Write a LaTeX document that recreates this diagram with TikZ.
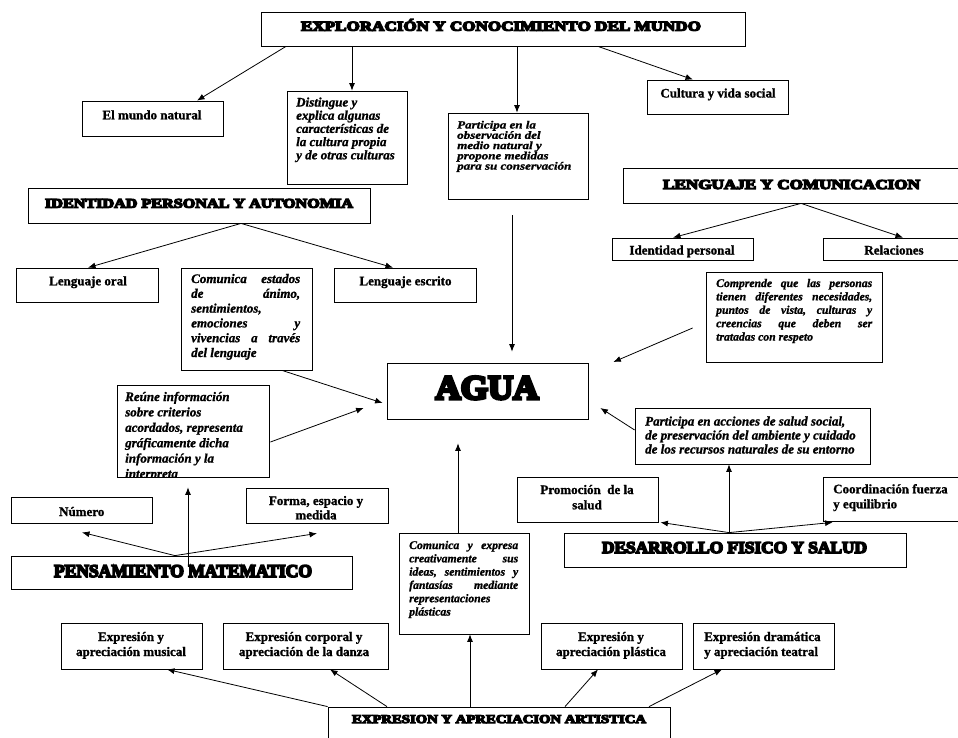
\documentclass[tikz,border=0pt]{standalone}
\usepackage{fontspec}
\usepackage{graphicx}
\setmainfont{Liberation Serif}[BoldFeatures={FakeBold=1.2}, BoldItalicFeatures={FakeBold=1.2}]
\newfontfamily\ttlfont[FakeBold=9]{Liberation Serif}
\usetikzlibrary{arrows.meta}
\newcommand\ttlw[3]{\resizebox{#1}{\height}{\fontsize{#2}{#2}\selectfont\ttlfont\bfseries #3}}
\newcommand\pbx[4]{\parbox[t]{#1}{\fontsize{#2}{#3}\selectfont #4}}
\begin{document}
\begin{tikzpicture}[x=1pt,y=-1pt,
  bx/.style={draw, line width=0.8pt, inner sep=0pt},
  tt/.style={inner sep=0pt, anchor=base},
  tu/.style={inner sep=0pt, font=\bfseries\fontsize{13}{15}\selectfont},
  ti/.style={inner sep=0pt, anchor=base west, font=\bfseries\itshape\fontsize{13}{13.2}\selectfont},
  arr/.style={line width=0.8pt, -{Latex[length=7.5pt,width=6pt]}}]
\useasboundingbox (0,0) rectangle (958,738);
\fill[white] (0,0) rectangle (958,738);
\clip (0,0) rectangle (958,738);

% ---------- boxes ----------
\node[bx, minimum width=484pt, minimum height=34pt] (expl) at (503,29) {};
\node[bx, minimum width=141pt, minimum height=35pt] (mundo) at (152.5,118.5) {};
\node[bx, minimum width=120pt, minimum height=93pt] (disting) at (347,137.5) {};
\node[bx, minimum width=140pt, minimum height=86pt] (partobs) at (518,156) {};
\node[bx, minimum width=141pt, minimum height=34pt] (cultura) at (717.5,97) {};
\node[bx, minimum width=337pt, minimum height=35pt] (lyc) at (791.5,185.5) {};
\node[bx, minimum width=141pt, minimum height=22pt] (idpers) at (682.5,249) {};
\node[bx, minimum width=141pt, minimum height=22pt] (relac) at (893.5,249) {};
\node[bx, minimum width=176pt, minimum height=90pt] (comprende) at (794,317) {};
\node[bx, minimum width=342pt, minimum height=35pt] (ident) at (199,205.5) {};
\node[bx, minimum width=142pt, minimum height=34pt] (oral) at (87,285) {};
\node[bx, minimum width=131pt, minimum height=102pt] (comest) at (246.5,319) {};
\node[bx, minimum width=142pt, minimum height=34pt] (escrito) at (405,285) {};
\node[bx, minimum width=201pt, minimum height=56pt] (agua) at (487.5,391) {};
\node[bx, minimum width=152pt, minimum height=92pt] (reune) at (193,431) {};
\node[bx, minimum width=141pt, minimum height=26pt] (numero) at (81.5,510) {};
\node[bx, minimum width=142pt, minimum height=35pt] (forma) at (317,505.5) {};
\node[bx, minimum width=341pt, minimum height=33pt] (pens) at (181.5,572.5) {};
\node[bx, minimum width=130pt, minimum height=101pt] (comexp) at (464,583.5) {};
\node[bx, minimum width=235pt, minimum height=56pt] (partacc) at (752.5,436) {};
\node[bx, minimum width=141pt, minimum height=45pt] (promo) at (587.5,499.5) {};
\node[bx, minimum width=141pt, minimum height=44pt] (coord) at (893.5,499) {};
\node[bx, minimum width=342pt, minimum height=34pt] (desar) at (735,550) {};
\node[bx, minimum width=141pt, minimum height=46pt] (emus) at (131.5,646) {};
\node[bx, minimum width=165pt, minimum height=46pt] (ecorp) at (305.5,646) {};
\node[bx, minimum width=141pt, minimum height=46pt] (eplas) at (611.5,646) {};
\node[bx, minimum width=141pt, minimum height=46pt] (edram) at (763.5,646) {};
\node[bx, minimum width=342pt, minimum height=38pt] (eart) at (499,726) {};

% ---------- titles ----------
\node[tt] (expl-t) at (501,30.7) {\ttlw{400pt}{13.6}{EXPLORACIÓN Y CONOCIMIENTO DEL MUNDO}};
\node[tt] (ident-t) at (199,207.7) {\ttlw{308pt}{13.2}{IDENTIDAD PERSONAL Y AUTONOMIA}};
\node[tt] (lyc-t) at (791.5,189) {\ttlw{257pt}{13.6}{LENGUAJE Y COMUNICACION}};
\node[tt] (pens-t) at (183,577) {\ttlw{258pt}{18}{PENSAMIENTO MATEMATICO}};
\node[tt] (desar-t) at (734.5,553) {\ttlw{265pt}{16.6}{DESARROLLO FISICO Y SALUD}};
\node[tt] (eart-t) at (499,723) {\ttlw{294pt}{12}{EXPRESION Y APRECIACION ARTISTICA}};
\node[tt] (agua-t) at (487,399) {\ttlw{103pt}{34}{AGUA}};

% ---------- upright texts ----------
\node[tu, anchor=base] (mundo-t) at (152,119.3) {El mundo natural};
\node[tu, anchor=base] (cultura-t) at (718,97.5) {Cultura y vida social};
\node[tu, anchor=base] (idpers-t) at (682,254.5) {Identidad personal};
\node[tu, anchor=base] (relac-t) at (894,254.5) {Relaciones};
\node[tu, anchor=base] (oral-t) at (88,285.3) {Lenguaje oral};
\node[tu, anchor=base] (escrito-t) at (405.5,285.3) {Lenguaje escrito};
\node[tu, anchor=base] (numero-t) at (81.7,516) {Número};
\node[tu, anchor=base] (forma-t) at (316,505) {\pbx{140pt}{13}{14.3}{\centering Forma, espacio y\\ medida}};
\node[tu, anchor=base] (promo-t) at (587,494) {\pbx{140pt}{13}{15.3}{\centering Promoción~ de la\\ salud}};
\node[tu, anchor=base west] (coord-t) at (833,493.3) {\pbx{130pt}{13}{15}{\raggedright Coordinación fuerza\\ y equilibrio}};
\node[tu, anchor=base] (emus-t) at (131,641) {\pbx{140pt}{13}{15}{\centering Expresión y\\ apreciación musical}};
\node[tu, anchor=base] (ecorp-t) at (304,641) {\pbx{160pt}{13}{15}{\centering Expresión corporal y\\ apreciación de la danza}};
\node[tu, anchor=base] (eplas-t) at (611,641) {\pbx{140pt}{13}{15}{\centering Expresión y\\ apreciación plástica}};
\node[tu, anchor=base west] (edram-t) at (704,641) {\pbx{130pt}{13}{15}{\raggedright Expresión dramática\\ y apreciación teatral}};

% ---------- italic texts ----------
\node[ti] (disting-t) at (296,106.5) {\pbx{108pt}{13}{13.2}{\raggedright Distingue y\\ explica algunas\\ características de\\ la cultura propia\\ y de otras culturas}};
\node[ti] (partobs-t) at (457,128.5) {\scalebox{1}[0.85]{\pbx{130pt}{13}{12.1}{\raggedright Participa en la\\ observación del\\ medio natural y\\ propone medidas\\ para su conservación}}};
\node[ti] (comest-t) at (191,283) {\pbx{109pt}{13}{14.8}{Comunica\hfill estados\\ de\hfill ánimo,\\ sentimientos,\\ emociones\hfill y\\ vivencias\hfill a\hfill través\\ del lenguaje}};
\begin{scope}
\clip (reune.north west) rectangle ([yshift=0.5pt]reune.south east);
\node[ti] (reune-t) at (125,401) {\pbx{140pt}{13}{15.4}{\raggedright Reúne información\\ sobre criterios\\ acordados, representa\\ gráficamente dicha\\ información y la\\ interpreta}};
\end{scope}
\node[ti] (comprende-t) at (716,287) {\pbx{156pt}{11.7}{13.4}{Comprende\hfill que\hfill las\hfill personas\\ tienen\hfill diferentes\hfill necesidades,\\ puntos\hfill de\hfill vista,\hfill culturas\hfill y\\ creencias\hfill que\hfill deben\hfill ser\\ tratadas con respeto}};
\node[ti] (partacc-t) at (645,425.5) {\pbx{225pt}{13}{14}{\raggedright Participa en acciones de salud social,\\ de preservación del ambiente y cuidado\\ de los recursos naturales de su entorno}};
\node[ti] (comexp-t) at (409,549) {\pbx{109pt}{11.7}{13.3}{Comunica\hfill y\hfill expresa\\ creativamente\hfill sus\\ ideas,\hfill sentimientos\hfill y\\ fantasías\hfill mediante\\ representaciones\\ plásticas}};

% ---------- connectors ----------
\draw[arr] ([xshift=-217pt]expl.south) -- ([xshift=44.5pt]mundo.north);
\draw[arr] ([xshift=-151pt]expl.south) -- ([xshift=5pt]disting.north);
\draw[arr] ([xshift=14pt]expl.south) -- ([xshift=-1pt]partobs.north);
\draw[arr] ([xshift=95pt]expl.south) -- ([xshift=-24.5pt]cultura.north);
\draw[arr] ([xshift=42pt]ident.south) -- ([xshift=1pt]oral.north);
\draw[arr] ([xshift=42pt]ident.south) -- ([xshift=-12pt]escrito.north);
\draw[arr] ([xshift=9.5pt]lyc.south) -- ([xshift=-9.5pt]idpers.north);
\draw[arr] ([xshift=9.5pt]lyc.south) -- ([xshift=9.5pt]relac.north);
\draw[arr] ([xshift=-6pt,yshift=-16pt]partobs.south) -- ([xshift=24.5pt,yshift=11pt]agua.north);
\draw[arr] ([xshift=-13pt,yshift=-11pt]comprende.west) -- ([xshift=25pt,yshift=29pt]agua.east);
\draw[arr] ([xshift=35.5pt]comest.south) -- ([xshift=-4pt,yshift=-12pt]agua.west);
\draw[arr] ([xshift=1pt,yshift=-11pt]reune.east) -- ([xshift=-23pt,yshift=-17pt]agua.west);
\draw[arr] ([xshift=6.5pt,yshift=-11pt]pens.north) -- ([xshift=-5pt,yshift=-10pt]reune.south);
\draw[arr] ([xshift=-6.5pt]pens.north) -- ([xshift=0.5pt,yshift=-9pt]numero.south);
\draw[arr] ([xshift=-6.5pt]pens.north) -- ([yshift=-10pt]forma.south);
\draw[arr] ([xshift=-6pt]comexp.north) -- ([xshift=-29.5pt,yshift=-24pt]agua.south);
\draw[arr] ([yshift=6pt]partacc.west) -- ([xshift=12pt,yshift=-17pt]agua.east);
\draw[arr] ([xshift=-6pt]desar.north) -- ([xshift=-23.5pt]partacc.south);
\draw[arr] ([xshift=-6pt]desar.north) -- ([xshift=2pt]promo.south east);
\draw[arr] ([xshift=-6pt]desar.north) -- ([xshift=10pt,yshift=-1pt]coord.south west);
\draw[arr] (eart.north west) -- ([xshift=35.5pt]emus.south);
\draw[arr] ([xshift=-112pt]eart.north) -- ([xshift=24.5pt]ecorp.south);
\draw[arr] ([xshift=-29pt]eart.north) -- ([xshift=6pt]comexp.south);
\draw[arr] ([xshift=66pt]eart.north) -- ([xshift=-13.5pt]eplas.south);
\draw[arr] ([xshift=150pt]eart.north) -- ([xshift=-41.5pt]edram.south);
\end{tikzpicture}
\end{document}
